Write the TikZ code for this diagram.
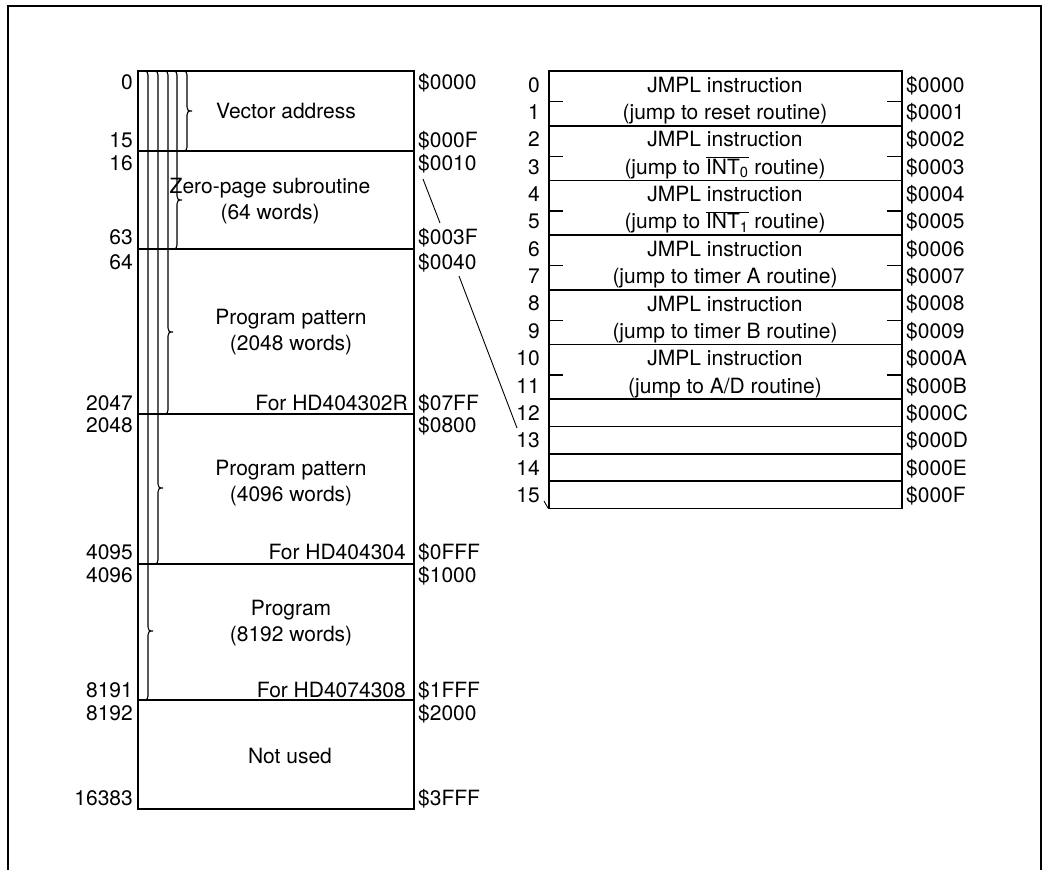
\documentclass[tikz,border=0pt]{standalone}
\usepackage{fontspec}
\setmainfont{TeX Gyre Heros}
\usepackage{tikz}
\usetikzlibrary{calc}
\newcommand{\INTn}[1]{$\overline{\hbox{INT\textsubscript{#1}}}$}
% right-facing brace: x, top, tip, bottom
\newcommand{\membrace}[4]{%
  \draw[brc] ({#1-4},#2) .. controls ({#1-1},#2) and (#1,{#2+1}) .. (#1,{#2+4})
    -- (#1,{#3-4}) .. controls (#1,{#3-1}) and ({#1+1},#3) .. ({#1+5},#3)
    .. controls ({#1+1},#3) and (#1,{#3+1}) .. (#1,{#3+4})
    -- (#1,{#4-4}) .. controls (#1,{#4-1}) and ({#1-1},#4) .. ({#1-4},#4);}
\tikzset{
  memline/.style={line width=1.7pt},
  brc/.style={line width=1.1pt},
  frame/.style={line width=2pt},
  zoomln/.style={line width=0.9pt},
  lbl/.style={inner sep=0pt,anchor=base},
  num/.style={lbl,anchor=base east},
  hexl/.style={lbl,anchor=base west},
  tick/.style={line width=1.3pt},
}
\begin{document}
\begin{tikzpicture}[x=1pt,y=-1pt,font=\fontsize{21}{26}\selectfont]
  \useasboundingbox (0,0) rectangle (1044,870);
  % outer frame
  \draw[frame] (8,870) -- (8,6) -- (1041,6) -- (1041,870);

  % memory map
  \draw[memline] (138,71) rectangle (414,809);
  \foreach \y in {151,249,414,564,700}{ \draw[memline] (138,\y) -- (414,\y); }
  \foreach \y/\n/\a [count=\i] in {82/0/0000,140/15/000F,163/16/0010,237/63/003F,262/64/0040,403/2047/07FF,
      425/2048/0800,552/4095/0FFF,575/4096/1000,690/8191/1FFF,713/8192/2000,798/16383/3FFF}{
    \node[num] (dec\i) at (133,\y+7.5) {\n};
    \node[hexl] (hex\i) at (418,\y+7.5) {\$\a};
  }
  \membrace{187}{71}{111}{151}
  \membrace{177}{71}{200}{249}
  \membrace{168}{71}{332}{414}
  \membrace{158}{71}{488}{564}
  \membrace{148}{71}{631}{700}

  \node[lbl] (vec) at (286,118.5) {Vector address};
  \node[lbl] (zp) at (270,193.5) {Zero-page subroutine};
  \node[lbl] (zpw) at (270,219.5) {(64 words)};
  \node[lbl] (pp1) at (291,324.5) {Program pattern};
  \node[lbl] (pp1w) at (291,350.5) {(2048 words)};
  \node[num] (for1) at (408,410.5) {For HD404302R};
  \node[lbl] (pp2) at (291,475.5) {Program pattern};
  \node[lbl] (pp2w) at (291,501.5) {(4096 words)};
  \node[num] (for2) at (406,559.5) {For HD404304};
  \node[lbl] (pg) at (291,615.5) {Program};
  \node[lbl] (pgw) at (291,641.5) {(8192 words)};
  \node[num] (for3) at (406,697.5) {For HD4074308};
  \node[lbl] (nu) at (290,763.5) {Not used};

  % vector table
  \draw[memline] (549,71) rectangle (902,508.6);
  \foreach \k in {2,4,6,8,10,12,13,14,15}{ \draw[memline] (549,71+27.35*\k) -- (902,71+27.35*\k); }
  \foreach \k/\h in {0/0,1/1,2/2,3/3,4/4,5/5,6/6,7/7,8/8,9/9,10/A,11/B,12/C,13/D,14/E,15/F}{
    \pgfmathsetmacro\yb{71+27.35*(\k+0.5)+7.5}
    \node[num] (row\k) at (540,\yb) {\k};
    \node[hexl] (vhex\k) at (906,\yb) {\$000\h};
  }
  \foreach \k/\txt in {0/{reset routine},1/{\INTn{0} routine},2/{\INTn{1} routine},
      3/{timer A routine},4/{timer B routine},5/{A/D routine}}{
    \pgfmathsetmacro\ya{71+54.7*\k+13.7+7.5}
    \pgfmathsetmacro\yt{71+54.7*\k+41+7.5}
    \pgfmathsetmacro\ym{71+54.7*\k+30.5}
    \node[lbl] (jm\k) at (725,\ya) {JMPL instruction};
    \node[lbl] (jt\k) at (725,\yt) {(jump to \txt)};
    \draw[tick] (549,\ym) -- (563,\ym);
    \draw[tick] (887,\ym) -- (902,\ym);
  }

  % expansion lines
  \coordinate (z1a) at (423,179);
  \coordinate (z1b) at (440,223);
  \coordinate (z2a) at (459,276);
  \coordinate (z2b) at (517,428);
  \coordinate (z3a) at (544,501);
  \coordinate (z3b) at (548,508);
  \draw[zoomln] (z1a) -- (z1b);
  \draw[zoomln] (z2a) -- (z2b);
  \draw[zoomln] (z3a) -- (z3b);
\end{tikzpicture}
\end{document}
